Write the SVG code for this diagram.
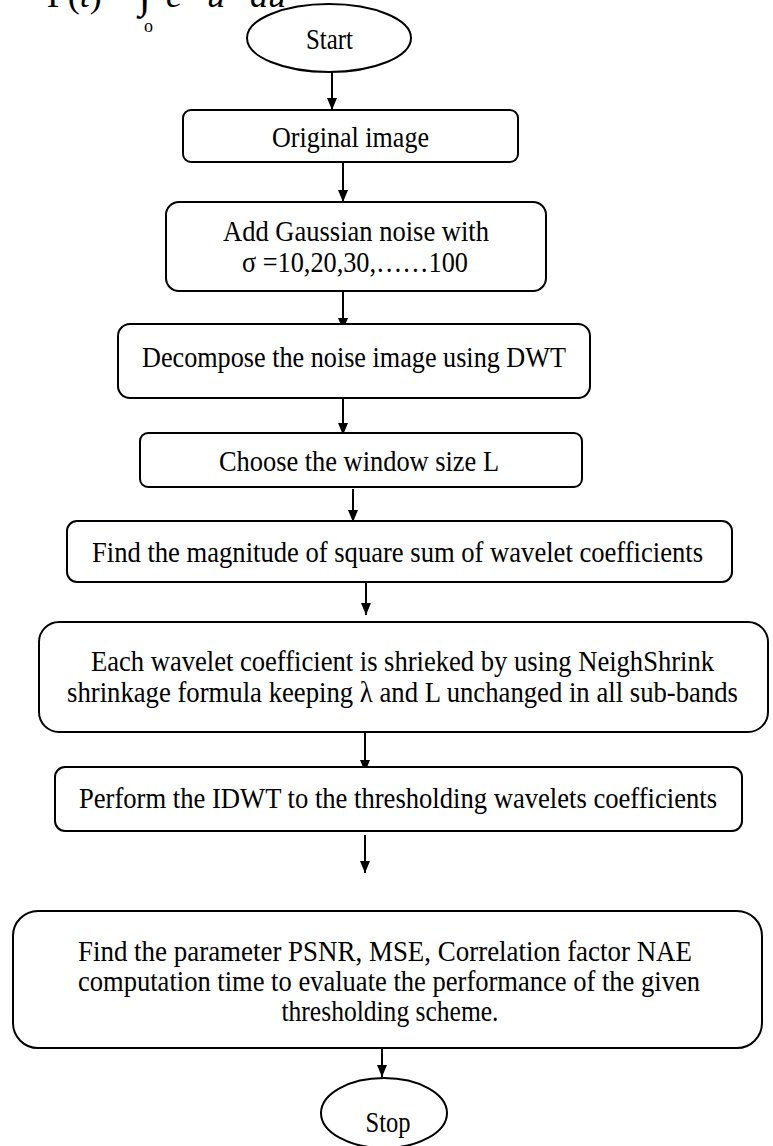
<svg xmlns="http://www.w3.org/2000/svg" width="773" height="1146" viewBox="0 0 773 1146">
<style>
.box{fill:#fff;stroke:#000;stroke-width:2}
.t{font-family:"Liberation Serif","Times New Roman",serif;font-size:30px;fill:#000;text-anchor:middle}
.f{font-family:"Liberation Serif","Times New Roman",serif;fill:#000}
.c{stroke:#000;stroke-width:2;fill:none;marker-end:url(#ah)}
</style>
<defs>
<marker id="ah" viewBox="0 0 12 10" markerUnits="userSpaceOnUse" markerWidth="12" markerHeight="10" refX="12" refY="5" orient="auto">
<path d="M0,0 L12,5 L0,10 z" fill="#000"/>
</marker>
</defs>
<rect width="773" height="1146" fill="#fff"/>
<g id="formula" class="f">
<text y="7" font-size="36"><tspan x="47">Γ(</tspan><tspan font-style="italic">t</tspan><tspan>) =</tspan><tspan x="139" font-size="44">∫</tspan><tspan x="166" font-style="italic">e</tspan><tspan x="207" font-style="italic">u</tspan><tspan x="250" font-style="italic">du</tspan></text>
<text x="144" y="32" font-size="18">o</text>
</g>
<g id="connectors">
<line class="c" x1="332" y1="72" x2="332" y2="110"/>
<line class="c" x1="343" y1="162" x2="343" y2="202"/>
<line class="c" x1="343" y1="291" x2="343" y2="330"/>
<line class="c" x1="343" y1="398" x2="343" y2="435"/>
<line class="c" x1="353" y1="489" x2="353" y2="522"/>
<line class="c" x1="366" y1="582" x2="366" y2="615"/>
<line class="c" x1="365" y1="732" x2="365" y2="772"/>
<line class="c" x1="365" y1="835" x2="365" y2="873"/>
<line class="c" x1="382" y1="1048" x2="382" y2="1077"/>
</g>
<g id="start">
<ellipse class="box" cx="329" cy="38" rx="82" ry="34"/>
<text class="t" x="329.5" y="49" textLength="47" lengthAdjust="spacingAndGlyphs">Start</text>
</g>
<g id="original">
<rect class="box" x="183" y="110" width="335" height="52" rx="8"/>
<text class="t" x="350.5" y="147" textLength="157" lengthAdjust="spacingAndGlyphs">Original image</text>
</g>
<g id="addnoise">
<rect class="box" x="166" y="202" width="380" height="89" rx="13"/>
<text class="t" x="356" y="241" textLength="266" lengthAdjust="spacingAndGlyphs">Add Gaussian noise with</text>
<text class="t" x="355" y="272" textLength="226" lengthAdjust="spacingAndGlyphs">σ =10,20,30,……100</text>
</g>
<g id="decompose">
<rect class="box" x="118" y="324" width="472" height="74" rx="12"/>
<text class="t" x="354" y="367" textLength="424" lengthAdjust="spacingAndGlyphs">Decompose the noise image using DWT</text>
</g>
<g id="window">
<rect class="box" x="140" y="433" width="442" height="54" rx="8"/>
<text class="t" x="359" y="471" textLength="280" lengthAdjust="spacingAndGlyphs">Choose the window size L</text>
</g>
<g id="magnitude">
<rect class="box" x="67" y="521" width="665" height="61" rx="10"/>
<text class="t" x="397.5" y="562" textLength="611" lengthAdjust="spacingAndGlyphs">Find the magnitude of square sum of wavelet coefficients</text>
</g>
<g id="shrink">
<rect class="box" x="39" y="622" width="729" height="110" rx="20"/>
<text class="t" x="402.5" y="671" textLength="623" lengthAdjust="spacingAndGlyphs">Each wavelet coefficient is shrieked by using NeighShrink</text>
<text class="t" x="402.5" y="702" textLength="671" lengthAdjust="spacingAndGlyphs">shrinkage formula keeping λ and L unchanged in all sub-bands</text>
</g>
<g id="idwt">
<rect class="box" x="55" y="767" width="687" height="64" rx="10"/>
<text class="t" x="398" y="808" textLength="638" lengthAdjust="spacingAndGlyphs">Perform the IDWT to the thresholding wavelets coefficients</text>
</g>
<g id="evaluate">
<rect class="box" x="13" y="911" width="749" height="137" rx="25"/>
<text class="t" x="385" y="961" textLength="614" lengthAdjust="spacingAndGlyphs">Find the parameter PSNR, MSE, Correlation factor NAE</text>
<text class="t" x="389" y="991" textLength="622" lengthAdjust="spacingAndGlyphs">computation time to evaluate the performance of the given</text>
<text class="t" x="390" y="1021" textLength="217" lengthAdjust="spacingAndGlyphs">thresholding scheme.</text>
</g>
<g id="stop">
<ellipse class="box" cx="384" cy="1113" rx="63" ry="35"/>
<text class="t" x="388" y="1132" textLength="45" lengthAdjust="spacingAndGlyphs">Stop</text>
</g>
</svg>
